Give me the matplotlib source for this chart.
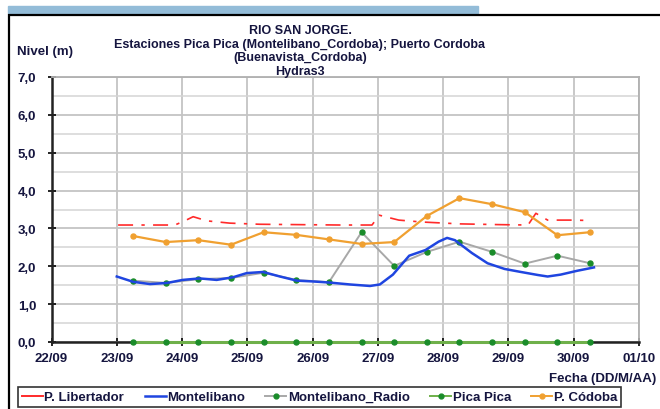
import matplotlib.pyplot as plt
from matplotlib.lines import Line2D
from matplotlib.patches import Rectangle
from datetime import datetime, timedelta

BASE = datetime(2011, 9, 22)

# tiempos en dias desde 22/09 00:00
t_obs = [1.25, 1.75, 2.25, 2.75, 3.25, 3.75, 4.25, 4.75,
         5.25, 5.75, 6.25, 6.75, 7.25, 7.75, 8.25]
cordoba = [2.80, 2.64, 2.69, 2.57, 2.90, 2.83, 2.71, 2.59,
           2.64, 3.33, 3.80, 3.64, 3.43, 2.82, 2.90]
radio = [1.62, 1.56, 1.66, 1.69, 1.83, 1.64, 1.58, 2.90,
         2.01, 2.38, 2.65, 2.38, 2.07, 2.28, 2.08]
pica = [0.0] * 15

t_mont = [1.00, 1.25, 1.51, 1.77, 2.01, 2.27, 2.53, 2.78, 2.99, 3.24, 3.50,
          3.76, 4.00, 4.26, 4.57, 4.88, 5.03, 5.23, 5.48, 5.73, 5.93, 6.06,
          6.18, 6.44, 6.68, 6.94, 7.19, 7.45, 7.60, 7.80, 8.05, 8.31]
montelibano = [1.73, 1.59, 1.53, 1.56, 1.64, 1.68, 1.64, 1.71, 1.82, 1.85, 1.73,
               1.62, 1.60, 1.57, 1.52, 1.48, 1.52, 1.78, 2.28, 2.43, 2.65, 2.75,
               2.69, 2.35, 2.08, 1.93, 1.85, 1.77, 1.73, 1.78, 1.88, 1.97]

t_lib = [1.02, 1.89, 2.04, 2.17, 2.38, 2.73, 3.19, 3.80, 4.42, 4.91, 5.02,
         5.32, 5.67, 6.26, 6.87, 7.30, 7.42, 7.60, 7.94, 8.26]
libertador = [3.09, 3.09, 3.20, 3.31, 3.20, 3.14, 3.11, 3.10, 3.09, 3.09, 3.35,
              3.22, 3.17, 3.12, 3.10, 3.09, 3.40, 3.22, 3.22, 3.21]

x_ticks = ['22/09', '23/09', '24/09', '25/09', '26/09', '27/09',
           '28/09', '29/09', '30/09', '01/10']


def to_dates(days):
    return [BASE + timedelta(days=d) for d in days]


TXT = '#15153f'
FS = 9.5
fig = plt.figure(figsize=(6.6, 4.1), dpi=100)
plt.rcParams['font.family'] = ['Liberation Sans', 'DejaVu Sans']

# marco y barra superior
fig.patches.append(Rectangle((8 / 660, 1 - 14 / 410), 470 / 660, 7 / 410,
                             transform=fig.transFigure, color='#93bcd8', zorder=0))
fig.patches.append(Rectangle((9 / 660, -0.05), 1.0, 1 - 15.5 / 410 + 0.05,
                             transform=fig.transFigure, fill=False,
                             edgecolor='black', linewidth=1.6, zorder=0))

ax = fig.add_axes([51.5 / 660, 1 - 343 / 410, (639 - 51.5) / 660, (343 - 78) / 410])

ax.plot(to_dates(t_lib), libertador, color='#ff2a2a', lw=1.2,
        linestyle=(0, (9, 5, 2, 5)), zorder=3)
ax.plot(to_dates(t_mont), montelibano, color='#1f45e0', lw=1.8, zorder=4)
ax.plot(to_dates(t_obs), radio, color='#a8a8a8', lw=1.4, marker='o', ms=3.6,
        mfc='#1a8c2a', mec='#1a8c2a', zorder=3)
ax.plot(to_dates(t_obs), pica, color='#6fb04a', lw=2.2, marker='o', ms=3.6,
        mfc='#1a8c2a', mec='#1a8c2a', zorder=5, clip_on=False)
ax.plot(to_dates(t_obs), cordoba, color='#f0a030', lw=1.6, marker='o', ms=3.6,
        mfc='#f0a030', mec='#f0a030', zorder=4)

ax.set_xlim(BASE, BASE + timedelta(days=9))
ax.set_ylim(0, 7)
ax.set_xticks(to_dates(range(10)))
ax.set_xticklabels(x_ticks, fontsize=FS, fontweight='bold', color=TXT)
ax.set_yticks(range(8))
ax.set_yticklabels([f'{v},0' for v in range(8)], fontsize=FS,
                   fontweight='bold', color=TXT)
ax.set_yticks([v + 0.5 for v in range(7)], minor=True)
ax.tick_params(axis='y', which='minor', length=0)
ax.tick_params(axis='both', which='major', direction='inout', length=6,
               width=1.2)
ax.tick_params(axis='x', pad=4)
ax.tick_params(axis='y', pad=8)
ax.grid(True, which='major', color='#c4c4c4', lw=1.3)
ax.grid(True, which='minor', axis='y', color='#d4d4d4', lw=1.1)
ax.set_axisbelow(True)
for s in ['left', 'bottom']:
    ax.spines[s].set_linewidth(1.8)
    ax.spines[s].set_color('#222222')
for s in ['top', 'right']:
    ax.spines[s].set_color('#b0b0b0')
    ax.spines[s].set_linewidth(1.3)

fig.text(300 / 660, 1 - 25 / 410,
         'RIO SAN JORGE.\nEstaciones Pica Pica (Montelibano_Cordoba); Puerto Cordoba\n'
         '(Buenavista_Cordoba)\nHydras3',
         ha='center', va='top', fontsize=9, fontweight='bold', color=TXT,
         linespacing=1.18)
fig.text(17 / 660, 1 - 52 / 410, 'Nivel (m)', ha='left', va='center',
         fontsize=FS, fontweight='bold', color=TXT)
fig.text(656 / 660, 1 - 379 / 410, 'Fecha (DD/M/AA)', ha='right', va='center',
         fontsize=FS, fontweight='bold', color=TXT)

handles = [
    Line2D([], [], color='#ff2a2a', lw=1.4),
    Line2D([], [], color='#1f45e0', lw=1.8),
    Line2D([], [], color='#a8a8a8', lw=1.4, marker='o', ms=3.5,
           mfc='#1a8c2a', mec='#1a8c2a'),
    Line2D([], [], color='#6fb04a', lw=1.4, marker='o', ms=3.5,
           mfc='#1a8c2a', mec='#1a8c2a'),
    Line2D([], [], color='#f0a030', lw=1.4, marker='o', ms=3.5,
           mfc='#f0a030', mec='#f0a030'),
]
labels = ['P. Libertador', 'Montelibano', 'Montelibano_Radio', 'Pica Pica',
          'P. Códoba']
leg = fig.legend(handles, labels, loc='center left',
                 bbox_to_anchor=(18 / 660, 1 - 398 / 410), ncol=5,
                 fontsize=FS, frameon=True, fancybox=False, handlelength=1.6,
                 handletextpad=0.1, columnspacing=1.55, borderpad=0.3,
                 borderaxespad=0)
leg.get_frame().set_edgecolor('black')
leg.get_frame().set_linewidth(1.2)
for txt in leg.get_texts():
    txt.set_fontweight('bold')
    txt.set_color(TXT)

fig.savefig('out.png', dpi=100)
